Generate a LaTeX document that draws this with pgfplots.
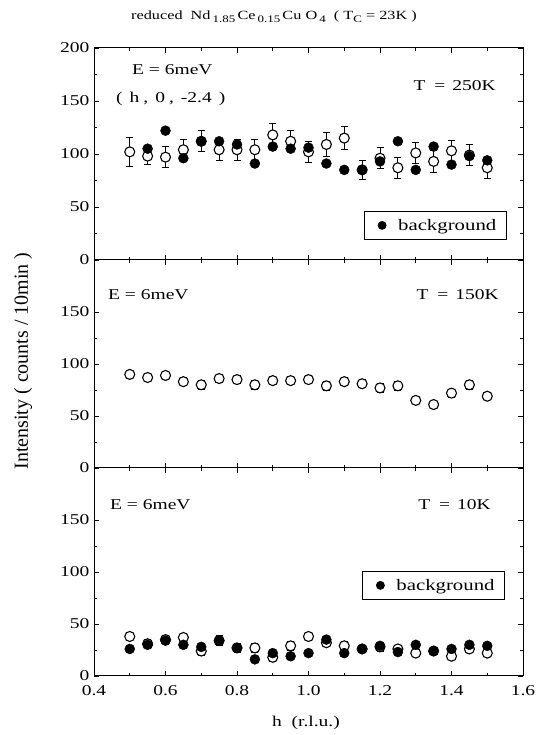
\documentclass[border=0pt]{standalone}
\usepackage{fontspec}
\setmainfont[FakeStretch=1.3]{Liberation Serif}
\newfontfamily\plainserif{Liberation Serif}
\usepackage{pgfplots}
\usepackage{pgfplotstable}
\pgfplotsset{compat=1.18}

\pgfplotstableread{
h I e
0.50 102 14
0.55 98 8
0.60 97 10
0.65 104 10
0.70 112 10
0.75 104 10
0.80 104 10
0.85 104 10
0.90 118 11
0.95 112 10
1.00 102 10
1.05 109 11
1.10 115 11
1.15 85 9
1.20 96 10
1.25 87 10
1.30 101 10
1.35 93 10
1.40 103 10
1.45 99 10
1.50 87 10
}\topopen
\pgfplotstableread{
h I
0.55 105
0.60 122
0.65 96
0.70 112
0.75 112
0.80 109
0.85 91
0.90 107
0.95 105
1.00 106
1.05 91
1.10 85
1.15 85
1.20 93
1.25 112
1.30 85
1.35 107
1.40 90
1.45 98
1.50 94
}\topbg
\pgfplotstableread{
h I e
0.50 90 4
0.55 87 4
0.60 89 4
0.65 83 4
0.70 80 4
0.75 86 4
0.80 85 4
0.85 80 4
0.90 84 4
0.95 84 4
1.00 85 4
1.05 79 4
1.10 83 4
1.15 81 4
1.20 77 4
1.25 79 4
1.30 65 3
1.35 61 3
1.40 72 4
1.45 80 4
1.50 69 3
}\midopen
\pgfplotstableread{
h I e
0.50 38 4
0.55 31 4
0.60 35 4
0.65 37 4
0.70 24 4
0.75 34 5
0.80 27 4
0.85 27 4
0.90 18 4
0.95 29 4
1.00 38 4
1.05 32 4
1.10 29 4
1.15 26 3
1.20 28 4
1.25 26 3
1.30 22 3
1.35 24 3
1.40 19 3
1.45 26 3
1.50 22 3
}\botopen
\pgfplotstableread{
h I
0.50 26
0.55 30
0.60 34
0.65 30
0.70 28
0.75 34
0.80 27
0.85 16
0.90 22
0.95 19
1.00 22
1.05 35
1.10 22
1.15 26
1.20 29
1.25 23
1.30 30
1.35 24
1.40 26
1.45 30
1.50 29
}\botbg

\begin{document}
\begin{tikzpicture}[x=1pt,y=1pt]
\path[use as bounding box] (0,0) rectangle (542,735);
\pgfplotsset{
  panel/.style={
    width=429pt, scale only axis,
    xmin=0.4, xmax=1.6, ymin=0, ymax=200,
    xtick={0.4,0.6,0.8,1.0,1.2,1.4,1.6},
    minor x tick num=1, minor y tick num=1,
    major tick length=5pt, minor tick length=3pt,
    tick style={line width=0.8pt, black},
    axis line style={line width=1pt},
    /pgf/number format/assume math mode=true,
    tick label style={font=\fontsize{15}{18}\selectfont},
    yticklabel style={xshift=-1pt},
    clip=false,
  },
  openpts/.style={only marks, mark=*, mark size=5pt,
    mark options={fill=white, draw=black, line width=1.1pt},
    error bars/y dir=both, error bars/y explicit,
    error bars/error bar style={line width=0.9pt, black},
    error bars/error mark options={rotate=90, mark size=3.5pt, line width=0.9pt, black}},
  bgpts/.style={only marks, mark=*, mark size=5pt,
    mark options={fill=black, draw=black}},
  bgleg/.style={legend style={draw=black, line width=0.8pt, fill=white,
    font=\fontsize{16}{19}\selectfont, anchor=south east,
    inner xsep=8pt, inner ysep=6pt},
    legend cell align=left,
    legend image code/.code={\path[draw=none, fill=none] (0pt,-4pt) rectangle (24pt,4pt);
      \fill[black] (10pt,0pt) circle (4pt);}},
}
% top panel
\begin{axis}[panel, at={(94pt,475pt)}, anchor=south west, height=212pt,
  ytick={0,50,100,150,200}, xticklabels={}, bgleg,
  legend style={at={(0.962,0.094)}}]
\addplot+[forget plot, openpts] table[x=h, y=I, y error=e] {\topopen};
\addplot+[bgpts] table[x=h, y=I] {\topbg};
\addlegendentry{background}
\end{axis}
% middle panel
\begin{axis}[panel, at={(94pt,267pt)}, anchor=south west, height=208pt,
  ytick={0,50,100,150}, xticklabels={}]
\addplot+[openpts] table[x=h, y=I, y error=e] {\midopen};
\end{axis}
% bottom panel
\begin{axis}[panel, at={(94pt,59pt)}, anchor=south west, height=208pt,
  ytick={0,50,100,150}, xticklabels={0.4,0.6,0.8,1.0,1.2,1.4,1.6},
  xticklabel style={yshift=-6pt}, bgleg,
  legend style={at={(0.958,0.365)}}]
\addplot+[forget plot, openpts] table[x=h, y=I, y error=e] {\botopen};
\addplot+[bgpts] table[x=h, y=I] {\botbg};
\addlegendentry{background}
\end{axis}

\tikzset{lab/.style={font=\fontsize{15}{18}\selectfont, inner sep=0pt}}
% texts
\node[lab, anchor=west] at (132,665) {E = 6meV};
\node[lab, anchor=west] at (116,636) {(\hspace{7pt}h\hspace{4pt},\hspace{7pt}0\hspace{4pt},\hspace{7pt}-2.4\hspace{7pt})};
\node[lab, anchor=east] at (496,649) {T\hspace{9pt}=\hspace{7pt}250K};
\node[lab, anchor=west] at (108,440) {E = 6meV};
\node[lab, anchor=east] at (499,440) {T\hspace{9pt}=\hspace{7pt}150K};
\node[lab, anchor=west] at (110,230) {E = 6meV};
\node[lab, anchor=east] at (491,230) {T\hspace{9pt}=\hspace{7pt}10K};
\node[font=\plainserif\fontsize{20}{22}\selectfont, inner sep=0pt, rotate=90] at (23,374) {Intensity ( counts / 10min )};
\node[lab] at (306,12) {h\ \ (r.l.u.)};
\node[font=\fontsize{12.5}{15}\selectfont, inner sep=0pt, anchor=west] at (131,718)
  {reduced\ \ Nd\,\raisebox{-0.6ex}{\fontsize{10}{12}\selectfont 1.85}\,Ce\,\raisebox{-0.6ex}{\fontsize{10}{12}\selectfont 0.15}\,Cu\ O\,\raisebox{-0.6ex}{\fontsize{10}{12}\selectfont 4}\ \ (\ T\raisebox{-0.6ex}{\fontsize{10}{12}\selectfont C}\ = 23K\ )};
\end{tikzpicture}
\end{document}
